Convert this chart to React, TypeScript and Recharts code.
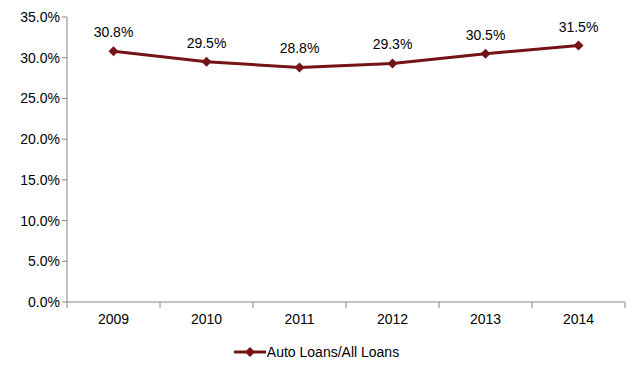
import { LineChart, Line, XAxis, YAxis, LabelList, Legend } from "recharts";

const years = ["2009", "2010", "2011", "2012", "2013", "2014"];
const autoShare = [30.8, 29.5, 28.8, 29.3, 30.5, 31.5];
const yTicks = [0, 5, 10, 15, 20, 25, 30, 35];

const data = years.map((year, i) => ({ year, share: autoShare[i] }));

const LINE_COLOR = "#741417";
const AXIS_COLOR = "#868686";
const FONT = "'Liberation Sans', Arial, sans-serif";

const Diamond = (props: any) => {
  const { cx, cy } = props;
  if (cx == null || cy == null) return null;
  const r = 5;
  return (
    <polygon
      points={`${cx},${cy - r} ${cx + r},${cy} ${cx},${cy + r} ${cx - r},${cy}`}
      fill={LINE_COLOR}
    />
  );
};

const BAND = (642 - 67 - 17) / years.length;

const XTick = (props: any) => {
  const { x, y, payload, index } = props;
  const left = x - BAND / 2;
  return (
    <g>
      <line x1={left} y1={y - 8} x2={left} y2={y - 2} stroke={AXIS_COLOR} />
      {index === years.length - 1 && (
        <line x1={x + BAND / 2} y1={y - 8} x2={x + BAND / 2} y2={y - 2} stroke={AXIS_COLOR} />
      )}
      <text x={x} y={y + 14} textAnchor="middle" fontSize={14} fill="#000" fontFamily={FONT}>
        {payload.value}
      </text>
    </g>
  );
};

const LegendContent = () => (
  <div
    style={{
      display: "flex",
      justifyContent: "center",
      alignItems: "center",
      fontFamily: FONT,
      fontSize: 14,
      paddingTop: 12,
      paddingLeft: 8,
    }}
  >
    <svg width={32} height={12} style={{ marginRight: 1 }}>
      <line x1={0} y1={6} x2={32} y2={6} stroke={LINE_COLOR} strokeWidth={3} />
      <polygon points="16,1 21,6 16,11 11,6" fill={LINE_COLOR} />
    </svg>
    <span style={{ color: "#000" }}>Auto Loans/All Loans</span>
  </div>
);

export default function App() {
  return (
    <div style={{ position: "absolute", left: 0, top: 0, background: "#fff" }}>
      <LineChart
        width={642}
        height={368}
        data={data}
        margin={{ top: 17, right: 17, bottom: 0, left: 0 }}
      >
        <XAxis
          dataKey="year"
          scale="band"
          stroke={AXIS_COLOR}
          tickLine={false}
          tick={<XTick />}
          height={30}
          interval={0}
        />
        <YAxis
          width={67}
          domain={[0, 35]}
          ticks={yTicks}
          stroke={AXIS_COLOR}
          tickSize={5}
          tickFormatter={(v: number) => `${v.toFixed(1)}%`}
          tick={{ fill: "#000", fontSize: 14, fontFamily: FONT }}
          interval={0}
        />
        <Legend verticalAlign="bottom" height={36} content={<LegendContent />} />
        <Line
          dataKey="share"
          stroke={LINE_COLOR}
          strokeWidth={3}
          dot={<Diamond />}
          activeDot={false}
          isAnimationActive={false}
        >
          <LabelList
            dataKey="share"
            position="top"
            offset={14}
            formatter={(v: number) => `${v.toFixed(1)}%`}
            style={{ fill: "#000", fontSize: 14, fontFamily: FONT }}
          />
        </Line>
      </LineChart>
    </div>
  );
}
